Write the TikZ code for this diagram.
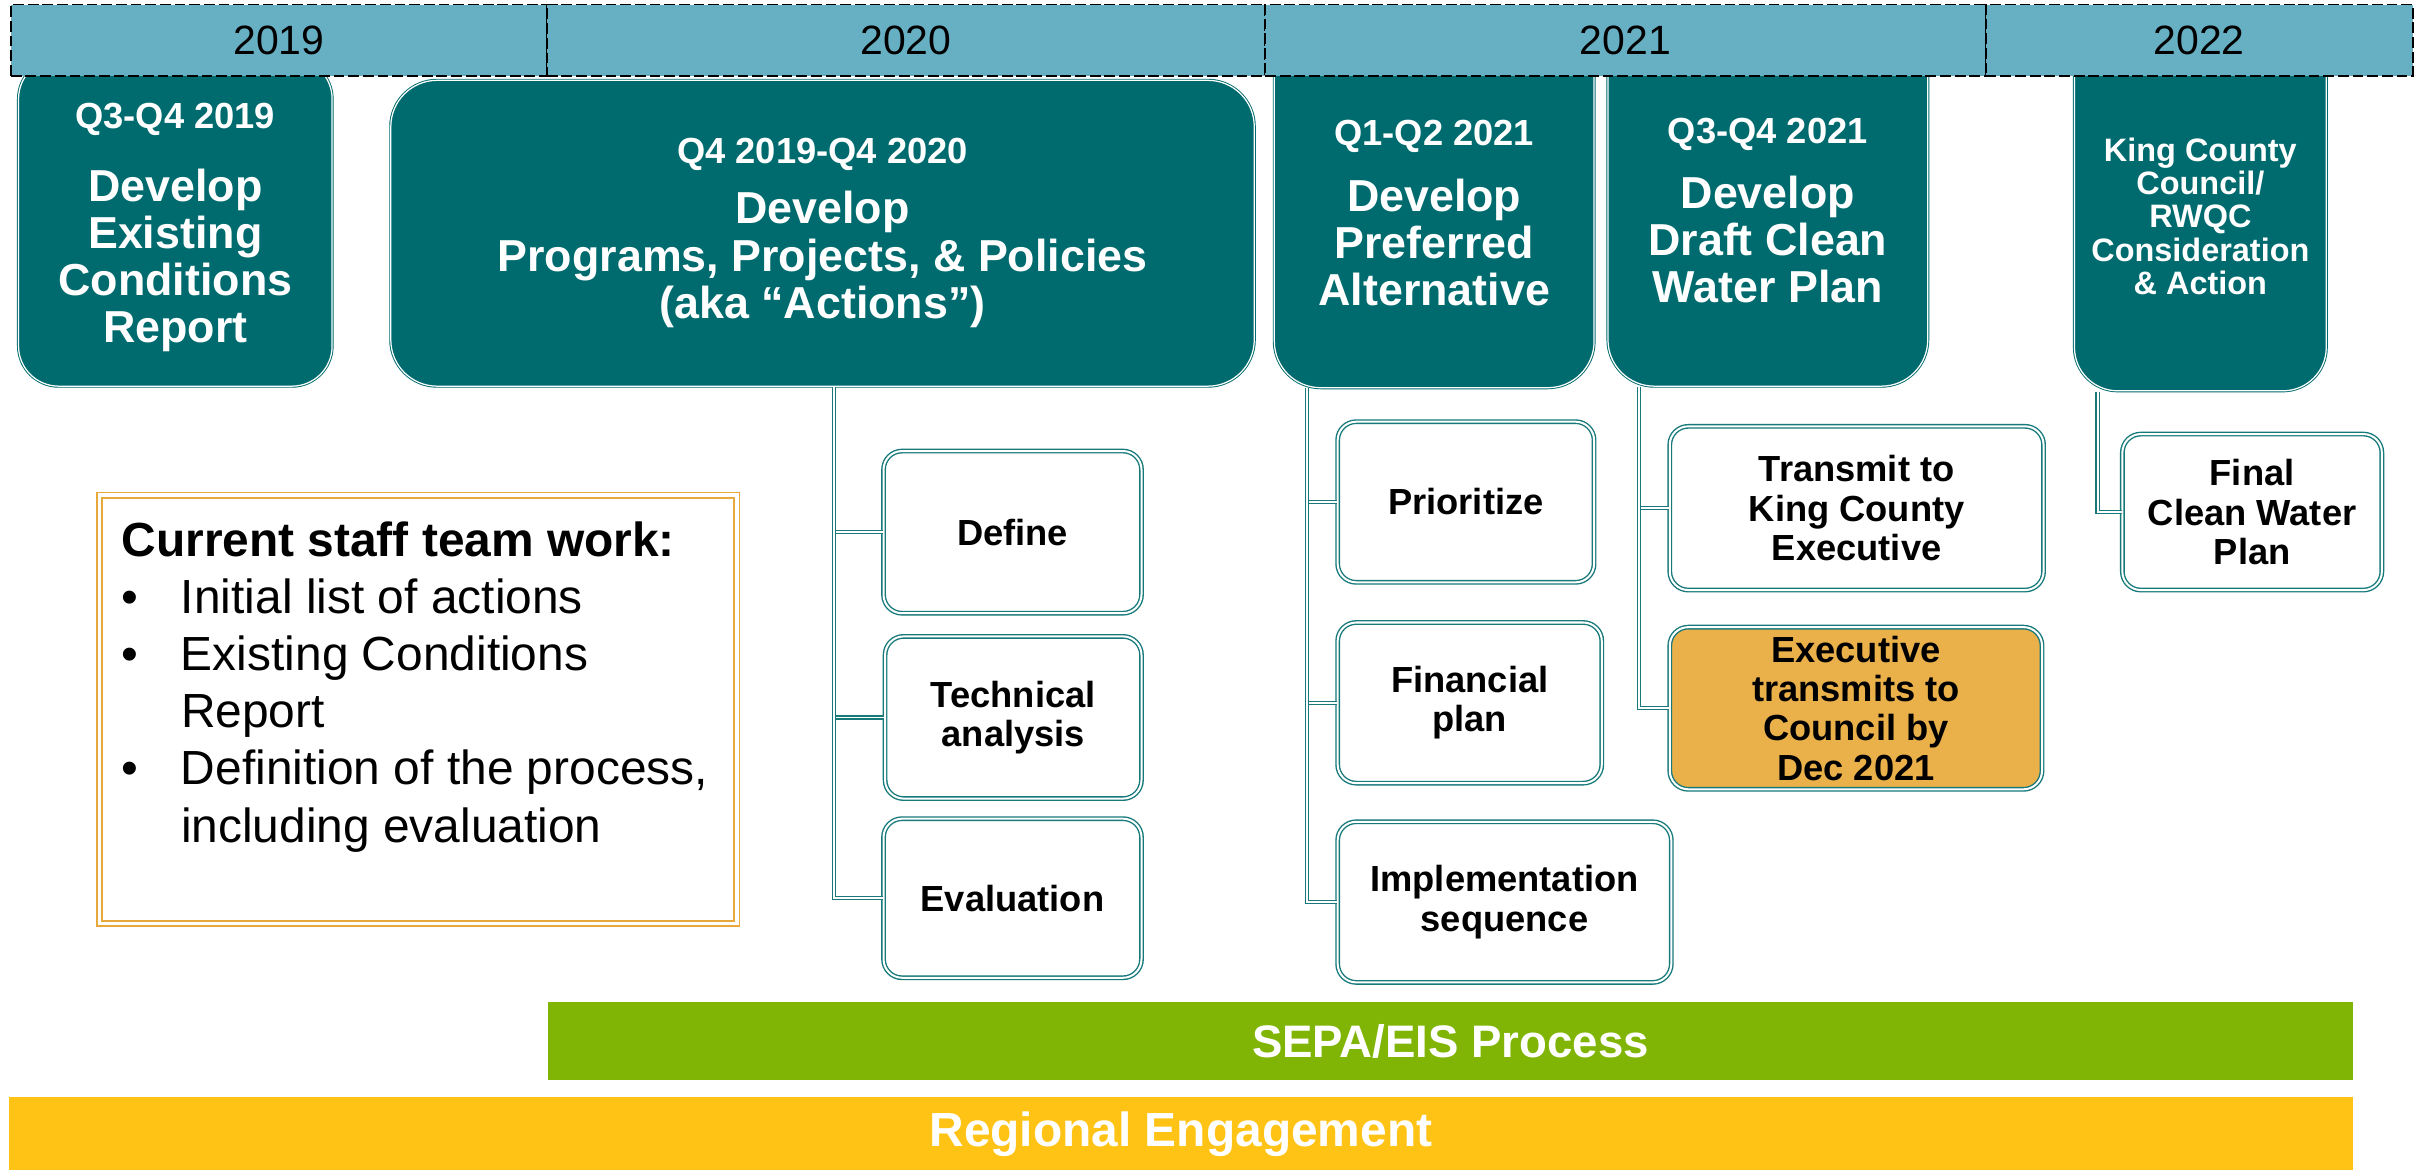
\documentclass[tikz,border=0pt]{standalone}
\usepackage{fontspec}
\setmainfont{Liberation Sans}
\newcommand\myfs[2]{\fontsize{#1pt}{#2pt}\selectfont}
\definecolor{hdr}{HTML}{67B0C4}
\definecolor{dteal}{HTML}{006B6E}
\definecolor{steal}{HTML}{17797A}
\definecolor{gold}{HTML}{EAB04A}
\definecolor{obrd}{HTML}{E9A83A}
\definecolor{sepa}{HTML}{80B505}
\definecolor{regn}{HTML}{FFC316}
\begin{document}
\begin{tikzpicture}[x=1pt,y=-1pt,
  hdrbox/.style={draw=black, fill=hdr, dash pattern=on 7pt off 2.5pt, line width=1.1pt, inner sep=0pt, font=\myfs{26.5}{30}, text=black},
  tealbox/.style={fill=dteal, draw=dteal, double=white, line width=0.6pt, double distance=0.8pt, inner sep=0pt},
  qtext/.style={text=white, font=\bfseries\myfs{23.5}{26}, inner sep=0pt},
  mtext/.style={text=white, font=\bfseries\myfs{29}{30.5}, align=center, inner sep=0pt},
  subbox/.style={draw=steal, double=white, line width=0.9pt, double distance=1.3pt, fill=white, rounded corners=12pt, inner sep=0pt, align=center, font=\bfseries\myfs{23.5}{25.5}},
  conn/.style={draw=steal, double=white, line width=0.8pt, double distance=1.2pt},
  bar/.style={inner sep=0pt, text=white, font=\bfseries\myfs{29}{32}}
]
\useasboundingbox (0,0) rectangle (1568,757.4);
\fill[white] (0,0) rectangle (1568,757.4);

% phase boxes
\node[tealbox, rounded corners=26pt, minimum width=203pt, minimum height=212pt] (b1) at (113.5,144) {};
\node[tealbox, rounded corners=30pt, minimum width=559pt, minimum height=198pt] (b2) at (532.5,151) {};
\node[tealbox, rounded corners=30pt, minimum width=207pt, minimum height=241pt] (b3) at (928.5,130.5) {};
\node[tealbox, rounded corners=30pt, minimum width=207pt, minimum height=240pt] (b4) at (1144.5,130) {};
\node[tealbox, rounded corners=28pt, minimum width=163pt, minimum height=243pt] (b5) at (1424.5,131.5) {};

\node[qtext] (q1) at (113.5,77) {Q3-Q4 2019};
\node[mtext] (m1) at (113.5,168.5) {Develop\\Existing\\Conditions\\Report};
\node[qtext] (q2) at (532.5,100) {Q4 2019-Q4 2020};
\node[mtext] (m2) at (532.5,168) {Develop\\Programs, Projects, \& Policies\\(aka “Actions”)};
\node[qtext] (q3) at (928.5,88) {Q1-Q2 2021};
\node[mtext] (m3) at (928.5,157) {Develop\\Preferred\\Alternative};
\node[qtext] (q4) at (1144.5,87) {Q3-Q4 2021};
\node[mtext] (m4) at (1144.5,155) {Develop\\Draft Clean\\Water Plan};
\node[mtext, font=\bfseries\myfs{21}{21.5}] (m5) at (1424.5,140) {King County\\Council/\\RWQC\\Consideration\\\& Action};

% year header
\node[hdrbox, minimum width=347pt, minimum height=46pt] (y19) at (180.5,26) {2019};
\node[hdrbox, minimum width=465pt, minimum height=46pt] (y20) at (586.5,26) {2020};
\node[hdrbox, minimum width=466.5pt, minimum height=46pt] (y21) at (1052.25,26) {2021};
\node[hdrbox, minimum width=276.5pt, minimum height=46pt] (y22) at (1423.75,26) {2022};

% sub steps
\node[subbox, minimum width=167pt, minimum height=105pt] (define) at (655.5,344.5) {Define};
\node[subbox, minimum width=166pt, minimum height=105pt] (tech) at (656,464.5) {Technical\\analysis};
\node[subbox, minimum width=167pt, minimum height=103pt] (eval) at (655.5,581.5) {Evaluation};
\node[subbox, minimum width=166pt, minimum height=104pt] (prio) at (949,325) {Prioritize};
\node[subbox, minimum width=171pt, minimum height=104pt] (fin) at (951.5,455) {Financial\\plan};
\node[subbox, minimum width=216pt, minimum height=104pt] (impl) at (974,584) {Implementation\\sequence};
\node[subbox, minimum width=242pt, minimum height=106pt] (trans) at (1202,329) {Transmit to\\King County\\Executive};
\node[subbox, fill=gold, minimum width=241pt, minimum height=105pt] (exec) at (1201.5,458.5) {Executive\\transmits to\\Council by\\Dec 2021};
\node[subbox, minimum width=168pt, minimum height=101pt] (final) at (1458,331.5) {Final\\Clean Water\\Plan};

% connectors
\coordinate (c2) at (540,250.5);
\coordinate (c3) at (846,251.5);
\coordinate (c4) at (1061,250.5);
\coordinate (c5) at (1358,253.5);
\draw[conn] (c2) |- (define.west);
\draw[conn] (c2) |- (tech.west);
\draw[conn] (c2) |- (eval.west);
\draw[conn] (c3) |- (prio.west);
\draw[conn] (c3) |- (fin.west);
\draw[conn] (c3) |- (impl.west);
\draw[conn] (c4) |- (trans.west);
\draw[conn] (c4) |- (exec.west);
\draw[conn] (c5) |- (final.west);

% staff note
\node[draw=obrd, double=white, line width=1.2pt, double distance=2.2pt, minimum width=412.5pt, minimum height=277.5pt, inner sep=0pt] (staff) at (270.75,459.25) {};
\node[anchor=north west, align=left, inner sep=0pt, font=\myfs{31}{37}] (stafftxt) at (78.5,337.5)
 {\textbf{Current staff team work:}\\
  \makebox[38.5pt][l]{•}Initial list of actions\\
  \makebox[38.5pt][l]{•}Existing Conditions\\
  \hspace*{38.5pt}Report\\
  \makebox[38.5pt][l]{•}Definition of the process,\\
  \hspace*{38.5pt}including evaluation};

% bars
\node[bar, fill=sepa, minimum width=1168pt, minimum height=50pt, font=\bfseries\myfs{29.5}{32}] (sepabar) at (939,674) {SEPA/EIS Process};
\node[bar, fill=regn, minimum width=1517pt, minimum height=49pt, font=\bfseries\myfs{31}{34}] (regbar) at (764.5,734.5) {Regional Engagement};
\end{tikzpicture}
\end{document}
